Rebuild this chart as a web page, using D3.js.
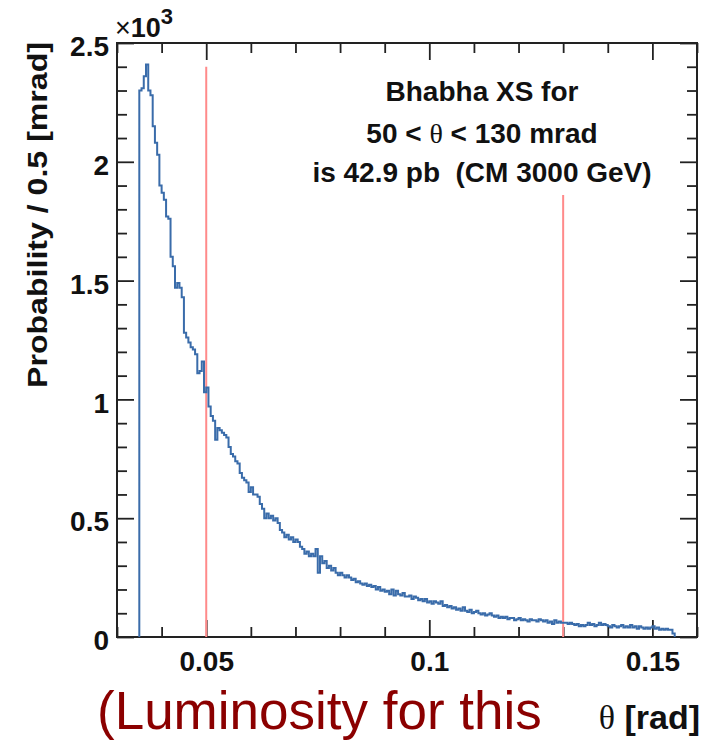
<!DOCTYPE html>
<html><head><meta charset="utf-8">
<script src="https://cdn.jsdelivr.net/npm/d3@7"></script>
<style>body{margin:0;background:#fff;} svg{display:block;} text{white-space:pre;}</style>
</head><body><div id="chart"></div>
<script>
// ---- data ----
const binStart = 0.035;
const binWidth = 0.0005;
const counts = [
 2300,2310,2360,2410,2300,2280,2150,2080,2030,1900,
 1870,1840,1770,1760,1600,1560,1470,1490,1470,1430,
 1280,1260,1240,1220,1210,1190,1110,1120,1160,1030,
 1050,970,930,910,830,880,870,860,850,840,
 800,770,760,740,730,690,670,660,650,610,
 630,600,600,590,560,540,500,520,500,510,
 490,500,480,450,440,420,430,410,420,400,
 410,400,380,370,350,360,340,350,340,370,
 270,340,310,320,290,300,280,290,270,260,
 270,260,250,260,250,240,245,230,235,225,
 220,225,215,220,210,215,200,210,195,200,
 190,195,180,200,175,195,180,175,185,170,
 170,175,160,170,165,155,160,150,160,145,
 150,140,150,145,140,150,130,135,125,130,
 120,125,115,120,110,125,110,105,115,100,
 105,110,100,95,100,90,95,100,90,85,
 90,80,85,80,85,75,80,80,70,75,
 80,70,75,70,65,75,70,70,65,75,
 70,65,70,60,65,55,70,60,65,60,
 60,60,55,60,55,50,55,45,50,45,
 50,60,50,55,45,50,60,50,55,50,
 45,40,50,45,40,45,50,40,45,40,
 50,40,45,35,45,40,35,40,35,40,
 45,35,40,30,35,30,35,30,30,15
];
const cutLines = [ {x:0.05, top:2400}, {x:0.13, top:1860} ];
const xMajorTicks = [0.05, 0.1, 0.15];
const xMajorLabels = ["0.05", "0.1", "0.15"];
const yMajorTicks = [0, 500, 1000, 1500, 2000, 2500];
const yMajorLabels = ["0", "0.5", "1", "1.5", "2", "2.5"];
const xMinorTicks = [0.03,0.04,0.06,0.07,0.08,0.09,0.11,0.12,0.13,0.14,0.16];
const yMinorTicks = [100,200,300,400,600,700,800,900,1100,1200,1300,1400,1600,1700,1800,1900,2100,2200,2300,2400];
const infoLines = ["Bhabha XS for", "50 < θ < 130 mrad", "is 42.9 pb  (CM 3000 GeV)"];

// ---- layout ----
const W = 708, H = 740;
const L = 117, R = 697, T = 43, B = 637;
const svg = d3.select("#chart").append("svg").attr("width", W).attr("height", H);
const x = d3.scaleLinear().domain([0.03, 0.16]).range([L, R]);
const y = d3.scaleLinear().domain([0, 2500]).range([B, T]);
const font = "'Liberation Sans', Arial, Helvetica, sans-serif";
const axisColor = "#222";

function styleAxis(g){
  g.select(".domain").remove();
  g.selectAll("line").attr("stroke", axisColor).attr("stroke-width", 1.8);
  g.selectAll("text").attr("font-family", font).attr("font-weight", "bold").attr("fill", "#111");
}
// y axis (left, labels)
svg.append("g").attr("transform", `translate(${L},0)`)
  .call(d3.axisLeft(y).tickValues(yMajorTicks).tickSizeInner(-17).tickSizeOuter(0).tickPadding(8)
    .tickFormat((d,i)=>yMajorLabels[i]))
  .call(styleAxis)
  .call(g=>g.selectAll("text").attr("font-size", 28).attr("dy", "0.45em"));
svg.append("g").attr("transform", `translate(${L},0)`)
  .call(d3.axisLeft(y).tickValues(yMinorTicks).tickSizeInner(-10).tickSizeOuter(0).tickFormat(""))
  .call(styleAxis);
// right axis
svg.append("g").attr("transform", `translate(${R},0)`)
  .call(d3.axisRight(y).tickValues(yMajorTicks).tickSizeInner(-17).tickSizeOuter(0).tickFormat(""))
  .call(styleAxis);
svg.append("g").attr("transform", `translate(${R},0)`)
  .call(d3.axisRight(y).tickValues(yMinorTicks).tickSizeInner(-10).tickSizeOuter(0).tickFormat(""))
  .call(styleAxis);
// x axis (bottom, labels)
svg.append("g").attr("transform", `translate(0,${B})`)
  .call(d3.axisBottom(x).tickValues(xMajorTicks).tickSizeInner(-17).tickSizeOuter(0).tickPadding(14)
    .tickFormat((d,i)=>xMajorLabels[i]))
  .call(styleAxis)
  .call(g=>g.selectAll("text").attr("font-size", 28).attr("dy", "0.71em"));
svg.append("g").attr("transform", `translate(0,${B})`)
  .call(d3.axisBottom(x).tickValues(xMinorTicks).tickSizeInner(-10).tickSizeOuter(0).tickFormat(""))
  .call(styleAxis);
// top axis
svg.append("g").attr("transform", `translate(0,${T})`)
  .call(d3.axisTop(x).tickValues(xMajorTicks).tickSizeInner(-17).tickSizeOuter(0).tickFormat(""))
  .call(styleAxis);
svg.append("g").attr("transform", `translate(0,${T})`)
  .call(d3.axisTop(x).tickValues(xMinorTicks).tickSizeInner(-10).tickSizeOuter(0).tickFormat(""))
  .call(styleAxis);

// frame
svg.append("rect").attr("x", L).attr("y", T).attr("width", R-L).attr("height", B-T)
  .attr("fill", "none").attr("stroke", axisColor).attr("stroke-width", 2);

// red cut lines
svg.append("g").selectAll("line").data(cutLines).join("line")
  .attr("x1", d=>x(d.x)).attr("x2", d=>x(d.x))
  .attr("y1", y(0)).attr("y2", d=>y(d.top))
  .attr("stroke", "#ff8a8a").attr("stroke-width", 2);

// histogram
const pts = [[binStart, 0]];
counts.forEach((c,i)=>pts.push([binStart + i*binWidth, c]));
const xEnd = binStart + counts.length*binWidth;
pts.push([xEnd, counts[counts.length-1]]);
pts.push([xEnd, 0]);
const line = d3.line().x(d=>x(d[0])).y(d=>y(d[1])).curve(d3.curveStepAfter);
svg.append("path").datum(pts).attr("d", line)
  .attr("fill", "none").attr("stroke", "#3a6caa").attr("stroke-width", 2)
  .attr("stroke-linejoin", "miter");

// x10^3
const mult = svg.append("text").attr("x", L-2).attr("y", 37)
  .attr("font-family", font).attr("font-size", 27).attr("fill", "#111");
mult.append("tspan").text("×");
mult.append("tspan").attr("font-weight", "bold").text("10");
mult.append("tspan").attr("font-weight", "bold").attr("font-size", 22).attr("dy", -13).text("3");

// y title
svg.append("text")
  .attr("transform", `translate(47,${(388+42)/2}) rotate(-90)`)
  .attr("text-anchor", "middle").attr("font-family", font).attr("font-weight", "bold")
  .attr("font-size", 28).attr("fill", "#111")
  .attr("textLength", 346).attr("lengthAdjust", "spacingAndGlyphs")
  .text("Probability / 0.5 [mrad]");

// x title
const xt = svg.append("text").attr("x", 700).attr("y", 729).attr("text-anchor", "end")
  .attr("font-family", font).attr("font-weight", "bold").attr("font-size", 34).attr("fill", "#111");
xt.append("tspan").attr("font-family", "'Liberation Serif', serif").attr("font-weight", "normal").text("θ");
xt.append("tspan").text(" [rad]");

// info text
const info = svg.append("g").attr("font-family", font).attr("font-weight", "bold")
  .attr("font-size", 28).attr("fill", "#111").attr("text-anchor", "middle");
const baselines = [101, 143, 182];
infoLines.forEach((t,i)=>{
  const tx = info.append("text").attr("x", 482).attr("y", baselines[i]);
  if (t.includes("θ")) {
    const parts = t.split("θ");
    tx.append("tspan").text(parts[0]);
    tx.append("tspan").attr("font-family", "'Liberation Serif', serif").attr("font-weight", "normal").text("θ");
    tx.append("tspan").text(parts[1]);
  } else tx.text(t);
});

// bottom overlay text
svg.append("text").attr("x", 97).attr("y", 729)
  .attr("font-family", font).attr("font-size", 53).attr("fill", "#8b0000")
  .text("(Luminosity for this");
</script></body></html>
